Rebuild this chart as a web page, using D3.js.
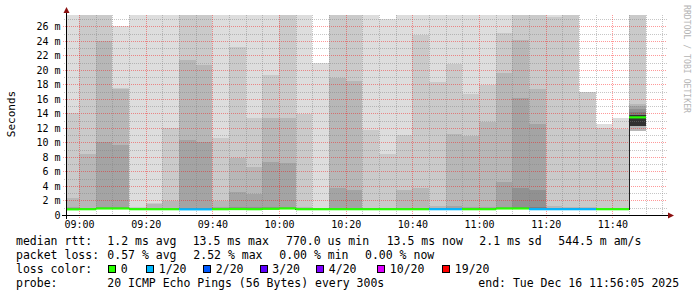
<!DOCTYPE html>
<html>
<head>
<meta charset="utf-8">
<script src="https://cdn.jsdelivr.net/npm/d3@7"></script>
<style>
  body { margin: 0; background: #fff; }
  text { font-family: "DejaVu Sans Mono", monospace; }
</style>
</head>
<body>
<svg id="chart"></svg>
<script>
// 5 minute bins starting 08:55, values in ms (29 = above the top of the graph)
const medianRtt = [0.78,0.80,0.90,0.90,0.80,0.80,0.80,0.78,0.78,0.80,0.82,0.80,0.85,0.90,0.80,0.80,0.80,0.80,0.80,0.80,0.80,0.80,0.80,0.80,0.80,0.80,0.90,0.90,0.80,0.80,0.80,0.80,0.80,0.80,13.45];
const lossCount = [0,0,0,0,0,0,0,1,1,0,0,0,0,0,0,0,0,0,0,0,0,0,1,1,0,0,0,0,1,1,1,1,0,0,0];

// sorted pings: highest ones
const p20 = [29,29,29,26.05,29,29,29,29,29,29,29,29,29,29,29,21.0,29,29,29,27.05,29,29,29,29,29,29,29,29,29,29,29,17.0,12.6,13.4,29];
const p19 = [14.0,29,29,17.5,1.07,1.6,12.0,29,29,10.6,23.1,13.35,19.3,29,13.95,0.95,29,29,11.75,8.45,11.05,24.75,18.3,20.75,16.7,17.95,25.1,29,29,27.3,29,16.95,12.0,11.9,29];
const p18 = [2.3,8.4,24.0,17.4,0.97,1.45,1.9,21.3,20.6,1.9,7.8,6.6,13.35,13.35,1.07,0.92,18.9,18.4,1.0,1.0,3.5,3.7,1.2,11.2,10.9,12.8,19.5,24.1,17.3,1.2,1.1,1.05,1.0,1.0,15.3];
const p17 = [1.05,1.0,10.0,9.7,0.93,1.0,1.0,10.35,10.1,1.07,3.15,2.85,7.3,7.15,0.95,0.9,3.7,3.5,0.93,0.93,1.0,1.0,1.0,1.3,1.17,1.1,4.6,16.1,12.6,1.0,1.0,0.95,0.93,0.93,15.0];
const p16 = [0.95,0.95,1.05,1.05,0.9,0.93,0.93,1.0,1.0,0.95,1.07,1.07,1.1,1.1,0.9,0.88,1.0,1.0,0.9,0.9,0.93,0.93,0.93,1.0,1.0,0.95,1.05,3.7,3.5,0.93,0.93,0.9,0.9,0.9,14.6];
const p15 = [0.9,0.9,0.95,0.95,0.88,0.88,0.88,0.9,0.9,0.9,0.95,0.95,0.98,1.0,0.88,0.86,0.92,0.92,0.88,0.88,0.9,0.9,0.9,0.92,0.92,0.9,0.95,1.05,1.05,0.9,0.9,0.88,0.88,0.88,14.2];
const pCore = [0.84,0.86,0.95,0.95,0.86,0.85,0.85,0.84,0.84,0.85,0.88,0.86,0.9,0.95,0.85,0.85,0.85,0.85,0.85,0.85,0.85,0.85,0.85,0.85,0.85,0.85,0.95,0.95,0.85,0.85,0.85,0.85,0.85,0.85,13.8];
// lowest pings
const pLow = [0.7,0.72,0.8,0.8,0.72,0.72,0.72,0.7,0.7,0.72,0.74,0.72,0.76,0.8,0.72,0.72,0.72,0.72,0.72,0.72,0.72,0.72,0.72,0.72,0.72,0.72,0.8,0.8,0.72,0.72,0.72,0.72,0.72,0.72,11.6];
const pLowCore = [0.74,0.76,0.85,0.85,0.76,0.76,0.76,0.74,0.74,0.76,0.78,0.76,0.8,0.85,0.76,0.76,0.76,0.76,0.76,0.76,0.76,0.76,0.76,0.76,0.76,0.76,0.85,0.85,0.76,0.76,0.76,0.76,0.76,0.76,12.3];

const lossLevels = ["0", "1/20", "2/20", "3/20", "4/20", "10/20", "19/20"];
const lossValues = [0, 1, 2, 3, 4, 10, 19];
const lossColors = ["#26ff00", "#00b8ff", "#0059ff", "#5e00ff", "#7e00ff", "#dd00ff", "#ff0000"];

const yTicks = d3.range(0, 27, 2);

// legend texts with their x positions
const legendRows = [
  [["median rtt:", 16], ["1.2 ms avg", 107.3], ["13.5 ms max", 192.7], ["770.0 us min", 286], ["13.5 ms now", 386.7], ["2.1 ms sd", 479.3], ["544.5 m am/s", 558.3]],
  [["packet loss:", 16], ["0.57 % avg", 107.3], ["2.52 % max", 193.3], ["0.00 % min", 279.3], ["0.00 % now", 365]],
  [["loss color:", 16]],
  [["probe:", 16], ["20 ICMP Echo Pings (56 Bytes) every 300s", 107.3], ["end: Tue Dec 16 11:56:05 2025", 478.3]]
];
const lossLegendX = [108.5, 146.5, 203.5, 260, 316.5, 377.5, 442.5];

const width = 697, height = 297;
const plot = { left: 66, right: 666, top: 15, bottom: 215 };

const start = new Date(Date.UTC(2025, 11, 16, 8, 56, 5));
const end = new Date(Date.UTC(2025, 11, 16, 11, 56, 5));
const firstBin = new Date(Date.UTC(2025, 11, 16, 8, 55, 0));

const x = d3.scaleUtc().domain([start, end]).range([plot.left, plot.right]);
const y = d3.scaleLinear().domain([0, 27.55]).range([plot.bottom, plot.top]);

const svg = d3.select("#chart")
  .attr("width", width)
  .attr("height", height)
  .style("display", "block");

svg.append("rect").attr("width", width).attr("height", height).attr("fill", "#fff");

svg.append("clipPath").attr("id", "plotclip")
  .append("rect")
  .attr("x", plot.left).attr("y", plot.top)
  .attr("width", plot.right - plot.left).attr("height", plot.bottom - plot.top);

const bins = medianRtt.map((m, i) => {
  const t0 = d3.utcMinute.offset(firstBin, i * 5);
  const t1 = d3.utcMinute.offset(firstBin, i * 5 + 5);
  return { i, t0: t0 < start ? start : t0, t1 };
});

// smoke: band k goes from the k-th lowest to the k-th highest ping
const bandTop = [p20, p19, p18, p17, p16, p15, pCore, pCore, pCore, pCore];
const smoke = svg.append("g").attr("clip-path", "url(#plotclip)").attr("shape-rendering", "crispEdges");
bandTop.forEach((top, k) => {
  const bottom = k < 3 ? pLow : pLowCore;
  const g = Math.floor(190 / 10 * (10 - (k + 1))) + 50;
  smoke.append("g").selectAll("rect")
    .data(bins)
    .join("rect")
    .attr("x", d => Math.round(x(d.t0)))
    .attr("width", d => Math.round(x(d.t1)) - Math.round(x(d.t0)))
    .attr("y", d => Math.round(y(top[d.i])))
    .attr("height", d => Math.max(0, Math.round(y(bottom[d.i])) - Math.round(y(top[d.i]))))
    .attr("fill", d3.rgb(g, g, g));
});

// grid
const grid = svg.append("g").attr("shape-rendering", "crispEdges");
const minorY = d3.range(1, 28, 2);
grid.selectAll(".hminor").data(minorY).join("line")
  .attr("x1", plot.left - 2).attr("x2", plot.right + 1)
  .attr("y1", d => Math.round(y(d)) + 0.5).attr("y2", d => Math.round(y(d)) + 0.5)
  .attr("stroke", "rgba(128,128,128,0.45)").attr("stroke-dasharray", "1,1");
grid.selectAll(".hmajor").data(yTicks.filter(d => d > 0)).join("line")
  .attr("x1", plot.left - 3).attr("x2", plot.right + 1)
  .attr("y1", d => Math.round(y(d)) + 0.5).attr("y2", d => Math.round(y(d)) + 0.5)
  .attr("stroke", "rgba(255,0,0,0.4)").attr("stroke-dasharray", "1,1");

const minorX = d3.utcMinute.every(5).range(start, end).filter(t => t.getUTCMinutes() % 20 !== 0);
const majorX = d3.utcMinute.every(20).range(start, end);
grid.selectAll(".vminor").data(minorX).join("line")
  .attr("x1", d => Math.round(x(d)) + 0.5).attr("x2", d => Math.round(x(d)) + 0.5)
  .attr("y1", plot.top).attr("y2", plot.bottom + 2)
  .attr("stroke", "rgba(128,128,128,0.45)").attr("stroke-dasharray", "1,1");
grid.selectAll(".vmajor").data(majorX).join("line")
  .attr("x1", d => Math.round(x(d)) + 0.5).attr("x2", d => Math.round(x(d)) + 0.5)
  .attr("y1", plot.top).attr("y2", plot.bottom + 3)
  .attr("stroke", "rgba(255,0,0,0.4)").attr("stroke-dasharray", "1,1");

// median: thin step line, then coloured by loss
const stepPts = bins.map(d => [x(d.t0), y(medianRtt[d.i])]);
stepPts.push([x(bins[bins.length - 1].t1), y(medianRtt[medianRtt.length - 1])]);
svg.append("path")
  .attr("d", d3.line().curve(d3.curveStepAfter)(stepPts))
  .attr("fill", "none").attr("stroke", "#202020").attr("stroke-width", 1)
  .attr("shape-rendering", "crispEdges");

const lossColor = n => lossColors[lossValues.findIndex((v, j) => n >= v && (j === lossValues.length - 1 || n < lossValues[j + 1]))];
svg.append("g").selectAll("line").data(bins).join("line")
  .attr("x1", d => Math.round(x(d.t0))).attr("x2", d => Math.round(x(d.t1)))
  .attr("y1", d => y(medianRtt[d.i])).attr("y2", d => y(medianRtt[d.i]))
  .attr("stroke", d => lossColor(lossCount[d.i]))
  .attr("stroke-width", 2.2);

// axes
const axisCol = "#000";
svg.append("line").attr("x1", plot.left - 4).attr("x2", plot.right + 3)
  .attr("y1", plot.bottom + 0.5).attr("y2", plot.bottom + 0.5)
  .attr("stroke", axisCol).attr("shape-rendering", "crispEdges");
svg.append("line").attr("x1", plot.left + 0.5).attr("x2", plot.left + 0.5)
  .attr("y1", plot.bottom + 4).attr("y2", 9)
  .attr("stroke", axisCol).attr("shape-rendering", "crispEdges");
svg.append("path").attr("d", `M${plot.right + 2},${plot.bottom - 2.5}L${plot.right + 8},${plot.bottom + 0.5}L${plot.right + 2},${plot.bottom + 3.5}Z`)
  .attr("fill", "#8b1010");
svg.append("path").attr("d", `M${plot.left - 2.5},${plot.top - 2}L${plot.left + 0.5},${plot.top - 8}L${plot.left + 3.5},${plot.top - 2}Z`)
  .attr("fill", "#8b1010");

svg.append("g").selectAll("text").data(yTicks).join("text")
  .attr("x", 60.5).attr("y", d => Math.round(y(d)) + 4)
  .attr("text-anchor", "end")
  .attr("font-size", "10px").attr("fill", "#000")
  .text(d => d === 0 ? "0" : d + " m");

svg.append("g").selectAll("text").data(majorX).join("text")
  .attr("x", d => x(d) + 0.5).attr("y", 228)
  .attr("text-anchor", "middle")
  .attr("font-size", "10px").attr("fill", "#000")
  .text(d3.utcFormat("%H:%M"));

svg.append("text")
  .attr("transform", "translate(15,114) rotate(-90)")
  .attr("text-anchor", "middle")
  .attr("font-size", "11px").attr("fill", "#000")
  .text("Seconds");

svg.append("text")
  .attr("transform", "translate(684,5) rotate(90)")
  .attr("font-size", "8.5px").attr("fill", "#b4b4b4")
  .attr("textLength", 108).attr("lengthAdjust", "spacingAndGlyphs")
  .text("RRDTOOL / TOBI OETIKER");

// legend
const legendBase = [245, 259, 273, 287];
legendRows.forEach((row, r) => {
  row.forEach(([t, lx]) => {
    svg.append("text").attr("x", lx).attr("y", legendBase[r])
      .attr("font-size", "11.5px").attr("fill", "#000")
      .style("white-space", "pre")
      .text(t);
  });
});
lossLevels.forEach((lab, j) => {
  svg.append("rect")
    .attr("x", lossLegendX[j]).attr("y", 265.5).attr("width", 7).attr("height", 7)
    .attr("fill", lossColors[j]).attr("stroke", "#000").attr("shape-rendering", "crispEdges");
  svg.append("text").attr("x", lossLegendX[j] + 12.3).attr("y", legendBase[2])
    .attr("font-size", "11.5px").attr("fill", "#000").text(lab);
});
</script>
</body>
</html>
